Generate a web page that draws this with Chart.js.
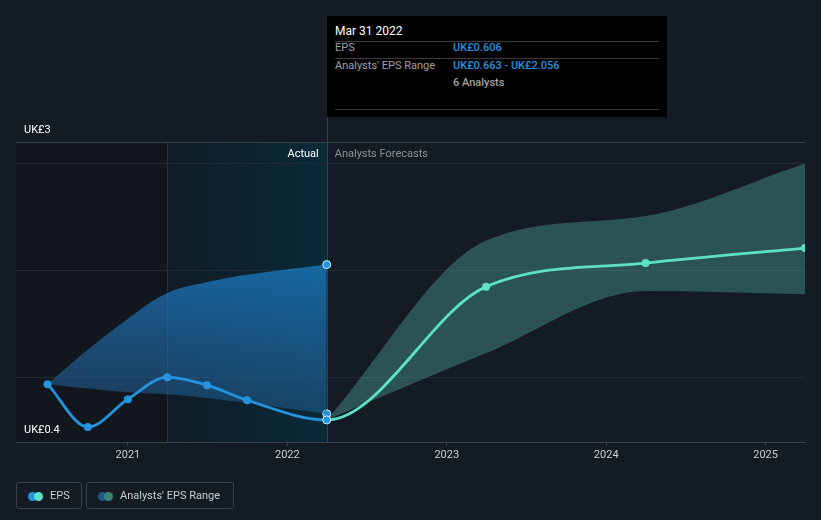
<!DOCTYPE html>
<html>
<head>
<meta charset="utf-8">
<script src="https://cdn.jsdelivr.net/npm/chart.js@4.4.1/dist/chart.umd.min.js"></script>
<style>
    html, body { margin: 0; padding: 0; background: #151b25; }
    #wrap { position: relative; width: 821px; height: 520px; font-family: Roboto, sans-serif; overflow: hidden; }
    #eps-chart { position: absolute; left: 0; top: 0; }
    .tip { position: absolute; left: 327px; top: 16px; width: 340px; height: 101px; background: #000; }
    .tip div { position: absolute; white-space: nowrap; line-height: 14px; }
    .tip .rule { left: 8px; width: 324px; height: 1px; background: #3a3b3d; }
    .tip .title { left: 8px; top: 8px; color: #fff; font-size: 12px; }
    .tip .lbl { left: 8px; color: #9ea2a8; font-size: 11px; }
    .tip .val { left: 126px; color: #2394df; font-size: 11px; font-weight: 500; }
    .tip .cnt { left: 126px; color: #a3a3a3; font-size: 11px; font-weight: 500; }
    .legend { position: absolute; top: 482px; height: 27px; box-sizing: border-box; border: 1px solid #3a3f48; border-radius: 3px; }
    .legend span { position: absolute; top: 6px; line-height: 14px; font-size: 11px; color: #c8ccd2; white-space: nowrap; }
    .legend i { position: absolute; top: 9px; width: 9px; height: 9px; border-radius: 50%; }
</style>
</head>
<body>
<div id="wrap">
    <canvas id="eps-chart" width="821" height="520"></canvas>

    <div class="tip">
        <div class="title">Mar 31 2022</div>
        <div class="rule" style="top:25px"></div>
        <div class="lbl" style="top:25px">EPS</div>
        <div class="val" style="top:25px">UK£0.606</div>
        <div class="rule" style="top:42px"></div>
        <div class="lbl" style="top:43px">Analysts' EPS Range</div>
        <div class="val" style="top:43px">UK£0.663 - UK£2.056</div>
        <div class="cnt" style="top:60px">6 Analysts</div>
        <div class="rule" style="top:93px"></div>
    </div>

    <div class="legend" style="left:16px;width:66px">
        <i style="left:11px;background:#2394df"></i>
        <i style="left:17px;background:#5ce1c6"></i>
        <span style="left:33px">EPS</span>
    </div>
    <div class="legend" style="left:86px;width:148px">
        <i style="left:11px;background:#1f5a85"></i>
        <i style="left:17px;background:#3e8078"></i>
        <span style="left:33px">Analysts' EPS Range</span>
    </div>
</div>

<script>
// ── Data ───────────────────────────────────────────────────

// dates as decimal years (quarter ends)
const histDates     = [2020.496, 2020.748, 2021.0, 2021.247, 2021.496, 2021.748, 2022.247];
const epsHist       = [0.94, 0.54, 0.80, 1.005, 0.93, 0.79, 0.606];
const rangeHistHigh = [0.94, 1.26, 1.55, 1.79, 1.89, 1.96, 2.056];
const rangeHistLow  = [0.94, 0.90, 0.865, 0.846, 0.81, 0.763, 0.663];

const fcDates       = [2022.247, 2023.247, 2024.247, 2025.247];
const epsForecast   = [0.606, 1.85, 2.07, 2.21];
const rangeFcHigh   = [0.606, 2.28, 2.51, 3.00];
const rangeFcLow    = [0.606, 1.23, 1.81, 1.78];

const yearTicks  = [2021, 2022, 2023, 2024, 2025];
const gridValues = [1, 2, 3, 3.2];
const yMin = 0.4, yMax = 3.2;
const yLabels = [{ value: 3.2, text: 'UK£3' }, { value: 0.4, text: 'UK£0.4' }];

const pastYearStart = 2021.247;
const nowDate = 2022.247;

const BLUE = '#2394df';
const MINT = '#5ce1c6';

const toPts = (xs, ys) => xs.map((x, i) => ({ x, y: ys[i] }));

// EPS is one continuous series, coloured by segment
const epsAll = toPts(histDates, epsHist).concat(toPts(fcDates.slice(1), epsForecast.slice(1)));
const nHist = histDates.length;

// ── Plugins ────────────────────────────────────────────────

const backdropPlugin = {
    id: 'backdrop',
    beforeDraw(chart) {
        const { ctx, chartArea: a, scales: { x } } = chart;
        const x1 = x.getPixelForValue(pastYearStart);
        const x2 = x.getPixelForValue(nowDate);
        ctx.save();
        ctx.fillStyle = '#151b25';
        ctx.fillRect(0, 0, chart.width, chart.height);
        ctx.fillStyle = '#12161d';
        ctx.fillRect(a.left, a.top, x1 - a.left, a.bottom - a.top);
        const g = ctx.createLinearGradient(x1, 0, x2, 0);
        g.addColorStop(0, '#0f1b25');
        g.addColorStop(1, '#0a2a38');
        ctx.fillStyle = g;
        ctx.fillRect(x1, a.top, x2 - x1, a.bottom - a.top);
        ctx.fillStyle = 'rgba(40,110,130,0.35)';
        ctx.fillRect(Math.round(x1), a.top, 1, a.bottom - a.top);
        ctx.restore();
    },
    beforeDatasetsDraw(chart) {
        const { ctx, chartArea: a, scales: { x } } = chart;
        const xn = Math.round(x.getPixelForValue(nowDate)) + 0.5;
        ctx.save();
        ctx.strokeStyle = '#25465a';
        ctx.lineWidth = 1;
        ctx.beginPath();
        ctx.moveTo(xn, 117);
        ctx.lineTo(xn, a.bottom);
        ctx.stroke();
        ctx.restore();
    },
    afterDraw(chart) {
        const { ctx, scales: { x, y } } = chart;
        const xn = x.getPixelForValue(nowDate);
        ctx.save();
        ctx.font = '11px Roboto, sans-serif';
        ctx.textBaseline = 'middle';
        ctx.textAlign = 'right';
        ctx.fillStyle = '#ffffff';
        ctx.fillText('Actual', xn - 8, 154);
        ctx.textAlign = 'left';
        ctx.fillStyle = '#8d9199';
        ctx.fillText('Analysts Forecasts', xn + 8, 154);
        ctx.fillStyle = '#ffffff';
        yLabels.forEach(l => ctx.fillText(l.text, 24, y.getPixelForValue(l.value) - 12));
        ctx.restore();
    }
};

// ── Chart ──────────────────────────────────────────────────

function blueBand(context) {
    const { chart } = context;
    const { ctx, chartArea, scales } = chart;
    if (!chartArea) return 'rgba(30,110,170,0.6)';
    const g = ctx.createLinearGradient(0, scales.y.getPixelForValue(2.1), 0, scales.y.getPixelForValue(0.6));
    g.addColorStop(0, 'rgba(28,132,212,0.70)');
    g.addColorStop(1, 'rgba(38,100,155,0.45)');
    return g;
}

const lastOnly = (n, r) => Array.from({ length: n }, (_, i) => i === n - 1 ? r : 0);

new Chart(document.getElementById('eps-chart'), {
    type: 'line',
    data: {
        datasets: [
            {
                label: 'EPS',
                data: epsAll,
                order: 1,
                borderWidth: 2.8,
                borderColor: BLUE,
                segment: { borderColor: c => c.p1DataIndex >= nHist ? MINT : BLUE },
                cubicInterpolationMode: 'monotone',
                pointRadius: 4,
                pointBackgroundColor: epsAll.map((_, i) => i < nHist ? BLUE : MINT),
                pointBorderColor: epsAll.map((_, i) => i === nHist - 1 ? '#d6ecfa' : 'rgba(0,0,0,0)'),
                pointBorderWidth: epsAll.map((_, i) => i === nHist - 1 ? 1 : 0),
                fill: false
            },
            {
                label: 'Range high',
                data: toPts(histDates, rangeHistHigh),
                order: 3,
                borderWidth: 0,
                borderColor: 'rgba(0,0,0,0)',
                backgroundColor: blueBand,
                tension: 0.4,
                pointRadius: lastOnly(histDates.length, 4),
                pointBackgroundColor: BLUE,
                pointBorderColor: '#d6ecfa',
                pointBorderWidth: 1,
                fill: '+1'
            },
            {
                label: 'Range low',
                data: toPts(histDates, rangeHistLow),
                order: 3,
                borderWidth: 0,
                borderColor: 'rgba(0,0,0,0)',
                tension: 0.4,
                pointRadius: lastOnly(histDates.length, 4),
                pointBackgroundColor: BLUE,
                pointBorderColor: '#d6ecfa',
                pointBorderWidth: 1,
                fill: false
            },
            {
                label: 'Forecast high',
                data: toPts(fcDates, rangeFcHigh),
                order: 4,
                borderWidth: 0,
                borderColor: 'rgba(0,0,0,0)',
                backgroundColor: 'rgba(88,196,178,0.33)',
                cubicInterpolationMode: 'monotone',
                pointRadius: 0,
                fill: '+1'
            },
            {
                label: 'Forecast low',
                data: toPts(fcDates, rangeFcLow),
                order: 4,
                borderWidth: 0,
                borderColor: 'rgba(0,0,0,0)',
                cubicInterpolationMode: 'monotone',
                pointRadius: 0,
                fill: false
            }
        ]
    },
    plugins: [backdropPlugin],
    options: {
        responsive: false,
        animation: false,
        events: [],
        layout: { padding: { left: 16, right: 16, top: 142, bottom: 48 } },
        plugins: { legend: { display: false }, tooltip: { enabled: false } },
        scales: {
            x: {
                type: 'linear',
                min: 2020.298,
                max: 2025.247,
                afterBuildTicks: s => { s.ticks = yearTicks.map(v => ({ value: v })); },
                afterFit: s => { s.height = 30; },
                ticks: {
                    color: '#c9cdd3',
                    font: { family: 'Roboto', size: 11 },
                    padding: 3,
                    maxRotation: 0,
                    autoSkip: false,
                    callback: v => String(v)
                },
                grid: { drawOnChartArea: false, color: '#3b4049', tickLength: 4 },
                border: { color: '#3b4049' }
            },
            y: {
                type: 'linear',
                min: yMin,
                max: yMax,
                afterBuildTicks: s => { s.ticks = gridValues.map(v => ({ value: v })); },
                afterFit: s => { s.width = 0; },
                ticks: { display: false },
                grid: {
                    drawTicks: false,
                    color: c => c.tick && c.tick.value === yMax ? '#3b4049' : '#242a33'
                },
                border: { display: false }
            }
        }
    }
});
</script>
</body>
</html>
